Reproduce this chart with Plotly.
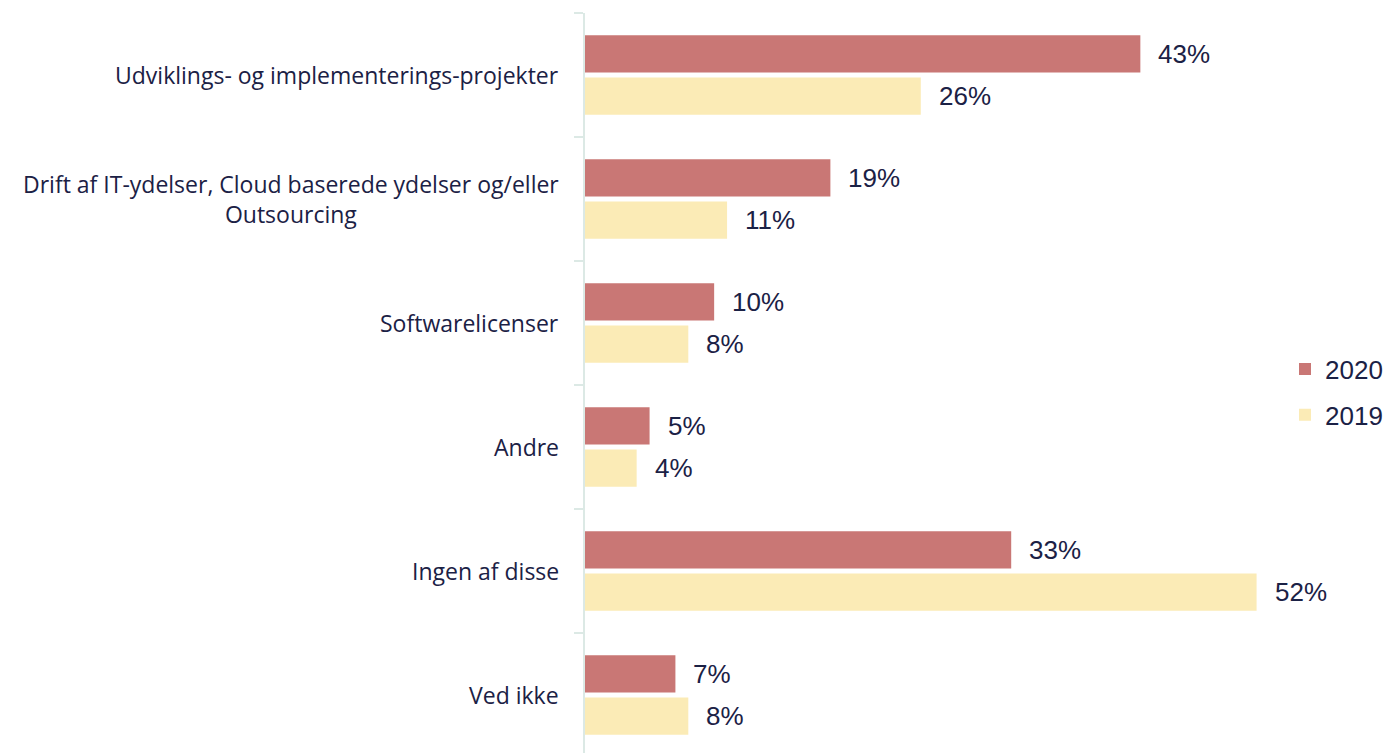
import plotly.graph_objects as go

categories = [
    "Udviklings- og implementerings-projekter",
    "Drift af IT-ydelser, Cloud baserede ydelser og/eller<br>Outsourcing",
    "Softwarelicenser",
    "Andre",
    "Ingen af disse",
    "Ved ikke",
]
values_2020 = [43, 19, 10, 5, 33, 7]
values_2019 = [26, 11, 8, 4, 52, 8]
series_names = ["2020", "2019"]

RED = "#C97775"
YELLOW = "#FBEBB6"
TEXT = "#1B2145"

fig = go.Figure()
for name, vals, col in [(series_names[0], values_2020, RED), (series_names[1], values_2019, YELLOW)]:
    fig.add_trace(go.Bar(
        y=categories, x=vals, name=name, orientation="h",
        legendgroup=name,
        marker=dict(color=col, line=dict(width=0)),
        hoverinfo="x+y",
    ))

annotations = []
for idx, vals in enumerate([values_2020, values_2019]):
    for i, c in enumerate(categories):
        annotations.append(dict(
            x=vals[i], y=c, xref="x", yref="y",
            text=f"{vals[i]}%", showarrow=False,
            xanchor="left", xshift=16,
            yshift=21 if idx == 0 else -21,
            font=dict(family="Liberation Sans, Arial", size=26, color=TEXT),
        ))
for c in categories:
    annotations.append(dict(
        x=0, y=c, xref="paper", yref="y",
        text=c, showarrow=False, xanchor="right", align="center",
        xshift=-24,
        font=dict(family="Open Sans", size=23, color=TEXT),
    ))

fig.update_layout(
    width=1388, height=757,
    margin=dict(l=585, r=100, t=13, b=0),
    plot_bgcolor="white", paper_bgcolor="white",
    barmode="group", bargap=0.32, bargroupgap=0.12,
    annotations=annotations,
    showlegend=True,
    legend=dict(
        x=1.0, xanchor="left", y=0.4906, yanchor="middle",
        font=dict(family="Liberation Sans, Arial", size=26, color=TEXT),
        itemwidth=30, tracegroupgap=9, traceorder="grouped",
    ),
    xaxis=dict(range=[0, 54.2], visible=False),
    yaxis=dict(
        autorange="reversed", showticklabels=False,
        showline=True, linecolor="#DCE9E5", linewidth=2,
        ticks="outside", tickson="boundaries", ticklen=9, tickcolor="#DCE9E5", tickwidth=2,
        showgrid=False, zeroline=False,
    ),
)

fig.write_html(
    "out.html",
    config={"displayModeBar": False},
    post_script="document.body.style.margin='0';document.body.style.overflow='hidden';",
)
